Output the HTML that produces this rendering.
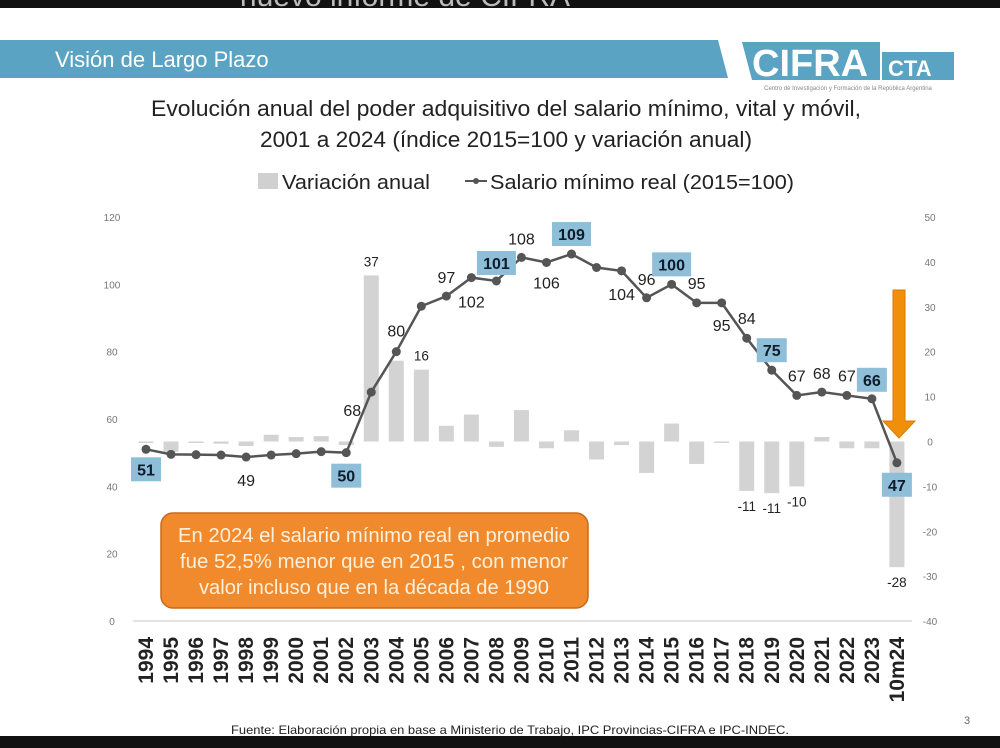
<!DOCTYPE html>
<html><head><meta charset="utf-8">
<style>
body{margin:0;width:1000px;height:748px;overflow:hidden;background:#fff;font-family:"Liberation Sans",sans-serif;}
svg{display:block}
</style></head>
<body>
<svg width="1000" height="748" viewBox="0 0 1000 748">
<rect x="0" y="0" width="1000" height="8" fill="#111"/>
<text x="405" y="6" font-size="30" fill="#bbb" text-anchor="middle">nuevo informe de CIFRA</text>
<rect x="0" y="736" width="1000" height="12" fill="#111"/>
<polygon points="0,40 718,40 728,78 0,78" fill="#5aa3c2"/>
<text x="55" y="67" font-size="22" fill="#fff">Visión de Largo Plazo</text>
<g>
<polygon points="742,42 880,42 880,80 752,80" fill="#5aa3c2"/>
<text x="752" y="76" font-size="38" font-weight="bold" fill="#fff">CIFRA</text>
<rect x="882" y="52" width="72" height="28" fill="#5aa3c2"/>
<text x="888" y="76" font-size="22" font-weight="bold" fill="#fff">CTA</text>
<text x="848" y="90" font-size="6" fill="#888" text-anchor="middle">Centro de Investigación y Formación de la República Argentina</text>
</g>
<text x="506" y="116" font-size="22.5" fill="#222" text-anchor="middle" textLength="710" lengthAdjust="spacingAndGlyphs">Evolución anual del poder adquisitivo del salario mínimo, vital y móvil,</text>
<text x="506" y="147" font-size="22.5" fill="#222" text-anchor="middle" textLength="492" lengthAdjust="spacingAndGlyphs">2001 a 2024 (índice 2015=100 y variación anual)</text>
<g>
<rect x="258" y="173" width="20" height="16" fill="#d0d0d0"/>
<text x="282" y="189" font-size="20" fill="#222" textLength="148" lengthAdjust="spacingAndGlyphs">Variación anual</text>
<line x1="465" y1="181" x2="487" y2="181" stroke="#555" stroke-width="2"/>
<circle cx="476" cy="181" r="3" fill="#555"/>
<text x="490" y="189" font-size="20" fill="#222" textLength="304" lengthAdjust="spacingAndGlyphs">Salario mínimo real (2015=100)</text>
</g>
<g id="chart"></g>
<g>
<rect x="161" y="513" width="427" height="95" rx="12" fill="#f08a2c" stroke="#c86a1a" stroke-width="1.5"/>
<text x="374" y="542" font-size="20" fill="#fdf0dc" text-anchor="middle" textLength="392" lengthAdjust="spacingAndGlyphs">En 2024 el salario mínimo real en promedio</text>
<text x="374" y="568" font-size="20" fill="#fdf0dc" text-anchor="middle" textLength="388" lengthAdjust="spacingAndGlyphs">fue 52,5% menor que en 2015 , con menor</text>
<text x="374" y="594" font-size="20" fill="#fdf0dc" text-anchor="middle" textLength="350" lengthAdjust="spacingAndGlyphs">valor incluso que en la década de 1990</text>
</g>
<g>
<polygon points="893,290 905,290 905,421 915,421 899,438 883,421 893,421" fill="#f0900a" stroke="#d97a00" stroke-width="1"/>
</g>
<text x="510" y="734" font-size="12" fill="#222" text-anchor="middle" textLength="558" lengthAdjust="spacingAndGlyphs">Fuente: Elaboración propia en base a Ministerio de Trabajo, IPC Provincias-CIFRA e IPC-INDEC.</text>
<text x="964" y="724" font-size="11" fill="#666">3</text>
</svg>
<script>
const categories=["1994","1995","1996","1997","1998","1999","2000","2001","2002","2003","2004","2005","2006","2007","2008","2009","2010","2011","2012","2013","2014","2015","2016","2017","2018","2019","2020","2021","2022","2023","10m24"];
const salario=[51,49.5,49.4,49.3,48.7,49.3,49.7,50.3,50,68,80,93.5,96.5,102,101,108,106.5,109,105,104,96,100,94.5,94.5,84,74.5,67,68,67,66,47];
const salarioLabels=["51","","","","49","","","","50","68","80","","97","102","101","108","106","109","","104","96","100","95","95","84","75","67","68","67","66","47"];
const highlighted=[1,0,0,0,0,0,0,0,1,0,0,0,0,0,1,0,0,1,0,0,0,1,0,0,0,1,0,0,0,1,1];
const variacion=[0,-2.3,-0.3,-0.5,-1,1.5,1,1.2,-0.8,37,18,16,3.5,6,-1.2,7,-1.5,2.5,-4,-0.8,-7,4,-5,-0.3,-11,-11.5,-10,1,-1.5,-1.5,-28];
const variacionLabels=["","","","","","","","","","37","","16","","","","","","","","","","","","","-11","-11","-10","","","","-28"];
const leftTicks=[0,20,40,60,80,100,120];
const rightTicks=[-40,-30,-20,-10,0,10,20,30,40,50];
// label offsets (styling only)
const lblDx={9:-19};
const lblDy=[20,0,0,0,23,0,0,0,23,18,-21,0,-19,24,-18,-19,20,-20,0,23,-19,-20,-20,22,-20,-20,-20,-19,-20,-19,22];

const NS="http://www.w3.org/2000/svg";
const g=document.getElementById('chart');
const X=i=>146+i*25.03;
const YL=v=>621-v*(404/120);
const YR=v=>441.5-v*(404/90);
function mk(t,a){const e=document.createElementNS(NS,t);for(const k in a)e.setAttribute(k,a[k]);g.appendChild(e);return e;}

let zl=mk('line',{x1:133,x2:912,y1:YL(0),y2:YL(0),stroke:'#d8d8d8','stroke-width':1.5});


leftTicks.forEach(v=>{const t=mk('text',{x:112,y:YL(v)+4,'font-size':10,fill:'#777','text-anchor':'middle'});t.textContent=v;

});
rightTicks.forEach(v=>{const t=mk('text',{x:930,y:YR(v)+4,'font-size':10,fill:'#777','text-anchor':'middle'});t.textContent=v;

});

variacion.forEach((v,i)=>{const y0=YR(0),y1=YR(v);const r=mk('rect',{x:X(i)-7.5,y:Math.min(y0,y1),width:15,height:Math.max(Math.abs(y1-y0),1.5),fill:'#d3d3d3'});


if(variacionLabels[i]){const t=mk('text',{x:X(i),y:v>=0?y1-9:y1+20,'font-size':13.5,fill:'#222','text-anchor':'middle'});t.textContent=variacionLabels[i];

}});

const p=mk('polyline',{points:salario.map((v,i)=>X(i)+','+YL(v)).join(' '),fill:'none',stroke:'#555','stroke-width':2.5});


salario.forEach((v,i)=>{const c=mk('circle',{cx:X(i),cy:YL(v),r:4.5,fill:'#555'});

});

salario.forEach((v,i)=>{if(!salarioLabels[i])return;const cx=X(i)+(lblDx[i]||0),cy=YL(v)+lblDy[i];
if(highlighted[i]){const w=salarioLabels[i].length*9+12;const b=mk('rect',{x:cx-w/2,y:cy-12,width:w,height:24,fill:'#8fbfd8'});

}
const t=mk('text',{x:cx,y:cy+6,'font-size':16,fill:highlighted[i]?'#0d1b2a':'#222','font-weight':highlighted[i]?'bold':'normal','text-anchor':'middle'});t.textContent=salarioLabels[i];

});

categories.forEach((c,i)=>{const t=mk('text',{x:0,y:0,'font-size':21,fill:'#222','text-anchor':'end','font-weight':'bold',transform:`translate(${X(i)+7},637) rotate(-90)`});t.textContent=c;

});
</script>
</body></html>
